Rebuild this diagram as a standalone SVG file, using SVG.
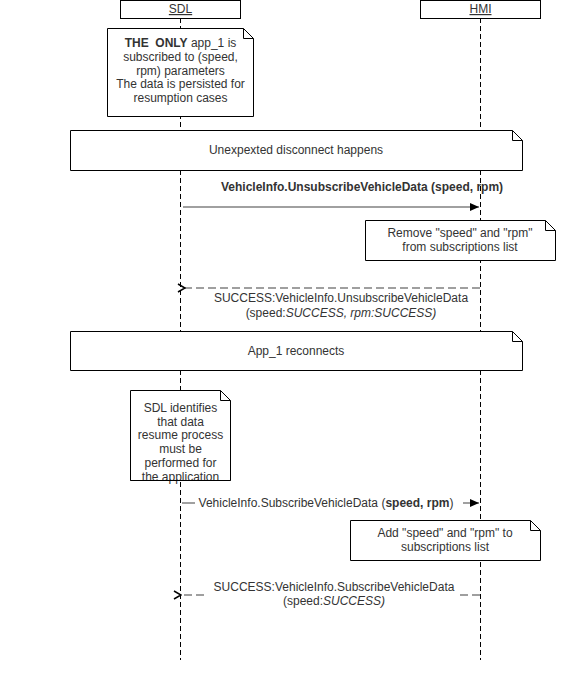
<svg xmlns="http://www.w3.org/2000/svg" width="580" height="680" viewBox="0 0 580 680">
<style>
text{font-family:"Liberation Sans",Arial,sans-serif;font-size:12px;fill:#333;}
.c{text-anchor:middle;}
.b{font-weight:bold;}
.i{font-style:italic;}
.note{fill:#fff;stroke:#000;stroke-width:1;}
.life{stroke:#000;stroke-width:1;stroke-dasharray:5 3;fill:none;}
.msg{stroke:#808080;stroke-width:1.5;fill:none;}
.ret{stroke:#808080;stroke-width:1.5;fill:none;stroke-dasharray:8 4;}
.hdr{fill:#fff;stroke:#000;stroke-width:1;}
</style>
<defs>
<marker id="fill" markerWidth="10" markerHeight="10" refX="9" refY="5" orient="auto" markerUnits="userSpaceOnUse">
<path d="M0,1 L9,5 L0,9 Z" fill="#000"/>
</marker>
<marker id="open" markerWidth="10" markerHeight="10" refX="1" refY="5" orient="auto" markerUnits="userSpaceOnUse">
<path d="M8,1 L1,5 L8,9" fill="none" stroke="#000" stroke-width="1.5"/>
</marker>
</defs>
<rect width="580" height="680" fill="#fff"/>
<g id="lifelines">
<line class="life" x1="180.5" y1="18" x2="180.5" y2="660"/>
<line class="life" x1="480.5" y1="18" x2="480.5" y2="660"/>
</g>
<g id="sdl">
<rect class="hdr" x="120.5" y="0.5" width="120" height="18"/>
<text class="c" x="180.5" y="13" text-decoration="underline">SDL</text>
</g>
<g id="hmi">
<rect class="hdr" x="420.5" y="0.5" width="120" height="18"/>
<text class="c" x="480.5" y="13" text-decoration="underline">HMI</text>
</g>
<g id="note1">
<path class="note" d="M107.5,28.5 H243.5 L253.5,38.5 V116.5 H107.5 Z"/>
<path d="M243.5,28.5 V38.5 H253.5" fill="none" stroke="#000"/>
<text class="c" x="180.5" y="47" xml:space="preserve"><tspan class="b">THE  ONLY</tspan> app_1 is</text>
<text class="c" x="180.5" y="61">subscribed to (speed,</text>
<text class="c" x="180.5" y="75">rpm) parameters</text>
<text class="c" x="180.5" y="88">The data is persisted for</text>
<text class="c" x="180.5" y="102">resumption cases</text>
</g>
<g id="note2">
<path class="note" d="M70.5,130.5 H512.5 L522.5,140.5 V170.5 H70.5 Z"/>
<path d="M512.5,130.5 V140.5 H522.5" fill="none" stroke="#000"/>
<text class="c" x="296" y="154">Unexpexted disconnect happens</text>
</g>
<g id="note3">
<path class="note" d="M365.5,220.5 H545.5 L555.5,230.5 V260.5 H365.5 Z"/>
<path d="M545.5,220.5 V230.5 H555.5" fill="none" stroke="#000"/>
<text class="c" x="460" y="237">Remove "speed" and "rpm"</text>
<text class="c" x="460" y="251">from subscriptions list</text>
</g>
<g id="note4">
<path class="note" d="M70.5,331.5 H512.5 L522.5,341.5 V370.5 H70.5 Z"/>
<path d="M512.5,331.5 V341.5 H522.5" fill="none" stroke="#000"/>
<text class="c" x="296" y="355">App_1 reconnects</text>
</g>
<g id="note5">
<path class="note" d="M130.5,390.5 H220.5 L230.5,400.5 V480.5 H130.5 Z"/>
<path d="M220.5,390.5 V400.5 H230.5" fill="none" stroke="#000"/>
<text class="c" x="180.5" y="412">SDL identifies</text>
<text class="c" x="180.5" y="426">that data</text>
<text class="c" x="180.5" y="439">resume process</text>
<text class="c" x="180.5" y="453">must be</text>
<text class="c" x="180.5" y="467">performed for</text>
<text class="c" x="180.5" y="481">the application</text>
<line x1="130.5" y1="480.5" x2="230.5" y2="480.5" stroke="#000"/>
</g>
<g id="note6">
<path class="note" d="M350.5,520.5 H530.5 L540.5,530.5 V560.5 H350.5 Z"/>
<path d="M530.5,520.5 V530.5 H540.5" fill="none" stroke="#000"/>
<text class="c" x="445" y="537">Add "speed" and "rpm" to</text>
<text class="c" x="445" y="551">subscriptions list</text>
</g>
<g id="connectors">
<line class="msg" x1="183" y1="207" x2="479" y2="207" marker-end="url(#fill)"/>
<text class="c b" x="362" y="191">VehicleInfo.UnsubscribeVehicleData (speed, rpm)</text>
<line class="ret" x1="480" y1="288" x2="185" y2="288" marker-end="url(#open)"/>
<text class="c" x="341" y="302">SUCCESS:VehicleInfo.UnsubscribeVehicleData</text>
<text class="c" x="341" y="317">(speed:<tspan class="i">SUCCESS, rpm:SUCCESS)</tspan></text>
<line class="msg" x1="182" y1="503" x2="479" y2="503" marker-end="url(#fill)"/>
<rect x="195" y="495" width="268" height="15" fill="#fff"/>
<text class="c" x="326" y="507">VehicleInfo.SubscribeVehicleData (<tspan class="b">speed, rpm</tspan>)</text>
<line class="ret" x1="480" y1="595" x2="181" y2="595" marker-end="url(#open)"/>
<rect x="208" y="580" width="251" height="27" fill="#fff"/>
<text class="c" x="334" y="591">SUCCESS:VehicleInfo.SubscribeVehicleData</text>
<text class="c" x="334" y="605">(speed:<tspan class="i">SUCCESS)</tspan></text>
</g>
</svg>
